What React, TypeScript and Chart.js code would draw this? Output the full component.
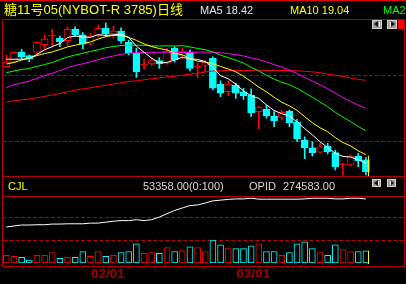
import React, { useEffect, useRef } from 'react';
import { Chart, registerables } from 'chart.js';
Chart.register(...registerables);

const titleText = '糖11号05(NYBOT-R 3785)日线';
const dateTickIndex = [13, 32];
const dateTickLabels = ['02/01', '03/01'];
const priceGrid = [20, 25];
const volumeGrid = [100000, 200000];

const opens = [25.70, 26.06, 26.80, 26.54, 26.80, 27.37, 28.02, 27.86, 27.67, 28.56, 28.11, 27.42, 28.05, 28.61, 28.18, 28.41, 27.55, 26.72, 25.82, 25.91, 26.16, 25.96, 27.10, 26.54, 26.84, 25.67, 25.80, 26.34, 24.39, 23.81, 24.32, 23.81, 23.56, 22.30, 22.48, 21.97, 21.87, 22.35, 21.52, 20.15, 19.55, 19.22, 19.70, 19.19, 18.28, 18.31, 18.94, 18.64];
const highs = [26.59, 26.82, 27.02, 26.61, 27.61, 28.11, 28.54, 28.03, 28.73, 28.73, 28.28, 28.23, 28.86, 29.02, 28.79, 28.64, 27.73, 27.10, 26.29, 26.34, 26.39, 27.10, 27.22, 27.14, 26.97, 25.96, 26.21, 26.46, 24.64, 24.64, 24.45, 24.07, 24.02, 22.73, 22.80, 22.30, 22.42, 22.42, 21.72, 20.40, 20.02, 19.90, 19.90, 19.39, 18.39, 19.02, 19.14, 18.81];
const lows = [25.70, 26.02, 26.27, 26.08, 26.61, 26.97, 27.17, 27.22, 27.27, 27.98, 27.05, 27.35, 27.98, 27.98, 27.86, 27.48, 26.59, 24.89, 25.49, 25.78, 25.58, 25.89, 26.04, 26.34, 25.38, 24.87, 25.33, 23.94, 23.43, 23.51, 23.31, 23.23, 21.92, 20.98, 21.80, 21.16, 21.67, 21.16, 20.02, 18.73, 18.94, 19.14, 19.09, 17.88, 17.50, 18.18, 18.13, 17.50];
const closes = [26.06, 26.80, 26.44, 26.29, 27.55, 27.80, 28.08, 27.60, 28.54, 28.13, 27.42, 27.98, 28.61, 28.18, 28.41, 27.67, 26.72, 25.30, 25.88, 26.16, 25.91, 26.89, 26.21, 26.89, 25.57, 25.73, 26.06, 24.07, 23.69, 24.39, 23.69, 23.51, 22.22, 22.65, 21.99, 21.59, 22.25, 21.46, 20.23, 19.57, 19.19, 19.64, 19.24, 18.13, 18.34, 18.94, 18.56, 17.75];

const ma5 = [26.27, 26.27, 26.27, 26.33, 26.63, 26.98, 27.23, 27.46, 27.91, 28.03, 27.95, 27.93, 28.14, 28.07, 28.12, 28.17, 27.92, 27.26, 26.80, 26.35, 25.99, 26.03, 26.21, 26.42, 26.30, 26.26, 26.09, 25.66, 25.02, 24.79, 24.38, 23.87, 23.50, 23.30, 22.81, 22.39, 22.14, 21.99, 21.51, 21.02, 20.54, 20.02, 19.58, 19.15, 18.91, 18.86, 18.64, 18.42];
const ma10 = [25.91, 26.02, 26.21, 26.34, 26.55, 26.70, 26.82, 27.01, 27.20, 27.33, 27.46, 27.58, 27.80, 27.98, 28.08, 28.06, 27.92, 27.70, 27.43, 27.23, 27.08, 26.97, 26.73, 26.61, 26.32, 26.12, 26.06, 25.93, 25.72, 25.54, 25.32, 24.98, 24.58, 24.16, 23.80, 23.39, 23.01, 22.74, 22.40, 21.92, 21.46, 21.08, 20.78, 20.33, 19.96, 19.70, 19.33, 19.04];
const ma20 = [25.25, 25.38, 25.49, 25.58, 25.72, 25.87, 26.02, 26.25, 26.44, 26.59, 26.72, 26.86, 26.99, 27.14, 27.23, 27.31, 27.33, 27.33, 27.33, 27.28, 27.27, 27.28, 27.27, 27.30, 27.20, 27.09, 26.99, 26.82, 26.58, 26.39, 26.20, 25.98, 25.66, 25.38, 25.06, 24.76, 24.53, 24.34, 24.06, 23.73, 23.39, 23.03, 22.68, 22.24, 21.88, 21.55, 21.17, 20.85];
const ma30 = [24.12, 24.34, 24.47, 24.61, 24.83, 25.02, 25.21, 25.42, 25.62, 25.80, 25.92, 26.09, 26.24, 26.39, 26.52, 26.64, 26.73, 26.76, 26.78, 26.80, 26.80, 26.80, 26.79, 26.78, 26.78, 26.80, 26.81, 26.80, 26.76, 26.70, 26.62, 26.52, 26.37, 26.25, 26.07, 25.86, 25.67, 25.46, 25.18, 24.89, 24.62, 24.34, 24.03, 23.70, 23.36, 23.07, 22.80, 22.55];
const ma60 = [23.02, 23.12, 23.19, 23.26, 23.35, 23.45, 23.57, 23.68, 23.80, 23.92, 24.02, 24.11, 24.20, 24.30, 24.39, 24.49, 24.58, 24.64, 24.71, 24.79, 24.86, 24.93, 24.98, 25.06, 25.14, 25.21, 25.30, 25.38, 25.40, 25.42, 25.42, 25.42, 25.43, 25.43, 25.42, 25.42, 25.42, 25.40, 25.39, 25.36, 25.31, 25.25, 25.14, 25.05, 24.97, 24.85, 24.74, 24.67];

const volumes = [33300, 29200, 25000, 12500, 33300, 33300, 45800, 20800, 25000, 25000, 50000, 29200, 50000, 29200, 33300, 45800, 50000, 83300, 41700, 45800, 41700, 66700, 50000, 54200, 70800, 66700, 50000, 100000, 79200, 62500, 62500, 62500, 75000, 83300, 50000, 50000, 33300, 45800, 83300, 91700, 62500, 45800, 33300, 79200, 58300, 50000, 50000, 53358];
const opid = [198350, 200960, 203570, 203570, 204350, 204350, 206170, 206170, 206960, 206960, 206960, 208780, 208780, 211390, 214000, 215570, 215570, 218170, 215570, 218170, 225220, 234350, 243480, 250000, 256520, 258350, 263570, 269570, 271390, 273480, 274780, 274780, 276610, 274000, 274000, 274000, 274000, 274000, 274000, 274780, 276610, 276610, 276610, 274780, 274780, 276610, 276610, 274583];

const RED = '#ff0000';
const CYAN = '#00ffff';
const FRAME = '#b40000';
const X_MIN = -0.5;
const X_MAX = 51.98;

const idx = closes.map((_, i) => i);
const isUp = (i: number) => closes[i] >= opens[i];
const candleColor = idx.map(i => (isUp(i) ? RED : CYAN));
const bodyFill = idx.map(i => (isUp(i) ? (Math.abs(closes[i] - opens[i]) < 0.1 ? RED : '#000000') : CYAN));
const last = closes.length - 1;

function cursorPlugin(getTop: (c: any) => number, half: number) {
  return {
    id: 'cursorLine',
    afterDatasetsDraw(chart: any) {
      const ctx = chart.ctx;
      const x = Math.round(chart.scales.x.getPixelForValue(last) + half) + 0.5;
      ctx.save();
      ctx.strokeStyle = '#ffff00';
      ctx.lineWidth = 1;
      ctx.beginPath();
      ctx.moveTo(x, getTop(chart));
      ctx.lineTo(x, chart.chartArea.bottom + 1);
      ctx.stroke();
      ctx.restore();
    },
  };
}

function maLine(values: number[], color: string) {
  return {
    type: 'line' as const,
    data: values.map((v, i) => ({ x: i, y: v })),
    borderColor: color,
    borderWidth: 1,
    pointRadius: 0,
    tension: 0,
    fill: false,
    order: 0,
  };
}

const line = (l: number, t: number, w: number, h: number, bg = FRAME): React.CSSProperties => ({
  position: 'absolute', left: l, top: t, width: w, height: h, background: bg,
});

const txt = (l: number, t: number, size: number, color: string): React.CSSProperties => ({
  position: 'absolute', left: l, top: t, fontSize: size, lineHeight: `${size}px`, color,
  whiteSpace: 'nowrap', fontFamily: '"Liberation Sans", Arial, "Noto Sans CJK SC", sans-serif',
});

function Btn({ l, t, w, h, dir }: { l: number; t: number; w: number; h: number; dir: 'l' | 'r' }) {
  return (
    <div style={{ position: 'absolute', left: l, top: t, width: w, height: h, background: '#9a9a9a', boxSizing: 'border-box', border: '1px solid #d0d0d0' }}>
      <div style={{
        position: 'absolute', top: Math.floor(h / 2) - 4, left: dir === 'l' ? 1 : w - 7, width: 0, height: 0,
        borderTop: '3px solid transparent', borderBottom: '3px solid transparent',
        ...(dir === 'l' ? { borderRight: '4px solid #111' } : { borderLeft: '4px solid #111' }),
      }} />
      <div style={{ position: 'absolute', top: 1, bottom: 1, left: dir === 'l' ? w - 4 : 2, width: 1, background: '#fff' }} />
    </div>
  );
}

export default function App() {
  const mainRef = useRef<HTMLCanvasElement>(null);
  const volRef = useRef<HTMLCanvasElement>(null);

  useEffect(() => {
    const main = new Chart(mainRef.current as HTMLCanvasElement, {
      type: 'bar',
      data: {
        datasets: [
          maLine(ma5, '#ffffff'),
          maLine(ma10, '#ffff00'),
          maLine(ma20, '#00ff00'),
          maLine(ma30, '#ff00ff'),
          maLine(ma60, '#ff0000'),
          {
            type: 'bar',
            data: idx.map(i => ({ x: i, y: [opens[i], closes[i]] })) as any,
            backgroundColor: bodyFill,
            borderColor: candleColor,
            borderWidth: 1,
            borderSkipped: false,
            barThickness: 7,
            grouped: false,
            order: 1,
          },
          {
            type: 'bar',
            data: idx.map(i => ({ x: i, y: [lows[i], highs[i]] })) as any,
            backgroundColor: candleColor,
            borderWidth: 0,
            barThickness: 1,
            grouped: false,
            order: 2,
          },
        ] as any,
      },
      options: {
        animation: false,
        responsive: false,
        devicePixelRatio: 1,
        events: [],
        layout: { padding: { left: 2.5, right: 2, top: 19, bottom: 108 } },
        plugins: { legend: { display: false }, tooltip: { enabled: false } },
        scales: {
          x: { type: 'linear', display: false, min: X_MIN, max: X_MAX, offset: false },
          y: {
            min: 17.424, max: 29.318,
            ticks: { display: false },
            grid: { color: FRAME, drawTicks: false, lineWidth: 1 },
            border: { display: false, dash: [4, 2] },
            afterBuildTicks: (s: any) => { s.ticks = priceGrid.map(v => ({ value: v })); },
          },
        },
      } as any,
      plugins: [cursorPlugin((c: any) => c.scales.y.getPixelForValue(highs[last]) - 2, 2.5)],
    });

    const vol = new Chart(volRef.current as HTMLCanvasElement, {
      type: 'bar',
      data: {
        datasets: [
          {
            type: 'line',
            data: opid.map((v, i) => ({ x: i, y: v })),
            yAxisID: 'y2',
            borderColor: '#ffffff',
            borderWidth: 1,
            pointRadius: 0,
            tension: 0,
            order: 0,
          },
          {
            type: 'bar',
            data: volumes.map((v, i) => ({ x: i, y: v })),
            yAxisID: 'y',
            backgroundColor: '#000000',
            borderColor: candleColor,
            borderWidth: 1,
            borderSkipped: false,
            barThickness: 6,
            grouped: false,
            order: 1,
          },
        ] as any,
      },
      options: {
        animation: false,
        responsive: false,
        devicePixelRatio: 1,
        events: [],
        layout: { padding: { left: 2.5, right: 2, top: 197, bottom: 4.8 } },
        plugins: { legend: { display: false }, tooltip: { enabled: false } },
        scales: {
          x: {
            type: 'linear', min: X_MIN, max: X_MAX, offset: false,
            grid: { display: false, drawTicks: false },
            border: { display: false },
            afterBuildTicks: (s: any) => { s.ticks = dateTickIndex.map(v => ({ value: v })); },
            ticks: {
              color: '#a00000', padding: 3, autoSkip: false, maxRotation: 0, labelOffset: 2,
              font: { family: '"Liberation Sans", Arial, sans-serif', size: 13.5, weight: 'bold', lineHeight: 1.2 },
              callback: (_v: any, i: number) => dateTickLabels[i],
            },
          },
          y: {
            min: 0, max: 287500,
            ticks: { display: false },
            grid: { color: FRAME, drawTicks: false },
            border: { display: false, dash: [4, 2] },
            afterBuildTicks: (s: any) => { s.ticks = volumeGrid.map(v => ({ value: v })); },
          },
          y2: { display: false, min: 100000, max: 280000 },
        },
      } as any,
      plugins: [cursorPlugin((c: any) => c.scales.y.getPixelForValue(volumes[last]), 2.5)],
    });

    return () => { main.destroy(); vol.destroy(); };
  }, []);

  return (
    <div style={{ position: 'fixed', left: 0, top: 0, width: 406, height: 284, background: '#000', overflow: 'hidden' }}>
      <canvas ref={mainRef} width={406} height={284} style={{ position: 'absolute', left: 0, top: 0, width: 406, height: 284 }} />
      <canvas ref={volRef} width={406} height={290} style={{ position: 'absolute', left: 0, top: 0, width: 406, height: 290 }} />
      <div style={line(0, 0, 406, 1, '#e00000')} />
      <div style={line(2, 19, 403, 1)} />
      <div style={line(2, 19, 1, 248)} />
      <div style={line(404, 19, 1, 248)} />
      <div style={line(2, 176, 403, 1)} />
      <div style={line(2, 196, 403, 1)} />
      <div style={line(2, 266, 403, 1)} />

      <div style={txt(4, 3, 13, '#ffff00')}>{titleText}</div>
      <div style={txt(200, 5, 11, '#e6e6e6')}>{`MA5 ${ma5[last].toFixed(2)}`}</div>
      <div style={txt(290, 5, 11, '#ffff00')}>{`MA10 ${ma10[last].toFixed(2)}`}</div>
      <div style={txt(383, 5, 11, '#00ff00')}>{`MA20 ${ma20[last].toFixed(2)}`}</div>

      <div style={txt(8, 181, 11, '#ffff00')}>CJL</div>
      <div style={txt(143, 181, 11, '#d8d8d8')}>{`${volumes[last].toFixed(2)}(0:100)`}</div>
      <div style={txt(249, 181, 11, '#d8d8d8')}>OPID</div>
      <div style={txt(283, 181, 11, '#d8d8d8')}>{opid[last].toFixed(2)}</div>

      <Btn l={372} t={20} w={10} h={9} dir="l" />
      <Btn l={387} t={20} w={10} h={9} dir="r" />
      <div style={line(398, 20, 6, 9, '#ff0000')} />
      <Btn l={372} t={179} w={9} h={8} dir="l" />
      <Btn l={387} t={179} w={9} h={8} dir="r" />
    </div>
  );
}
